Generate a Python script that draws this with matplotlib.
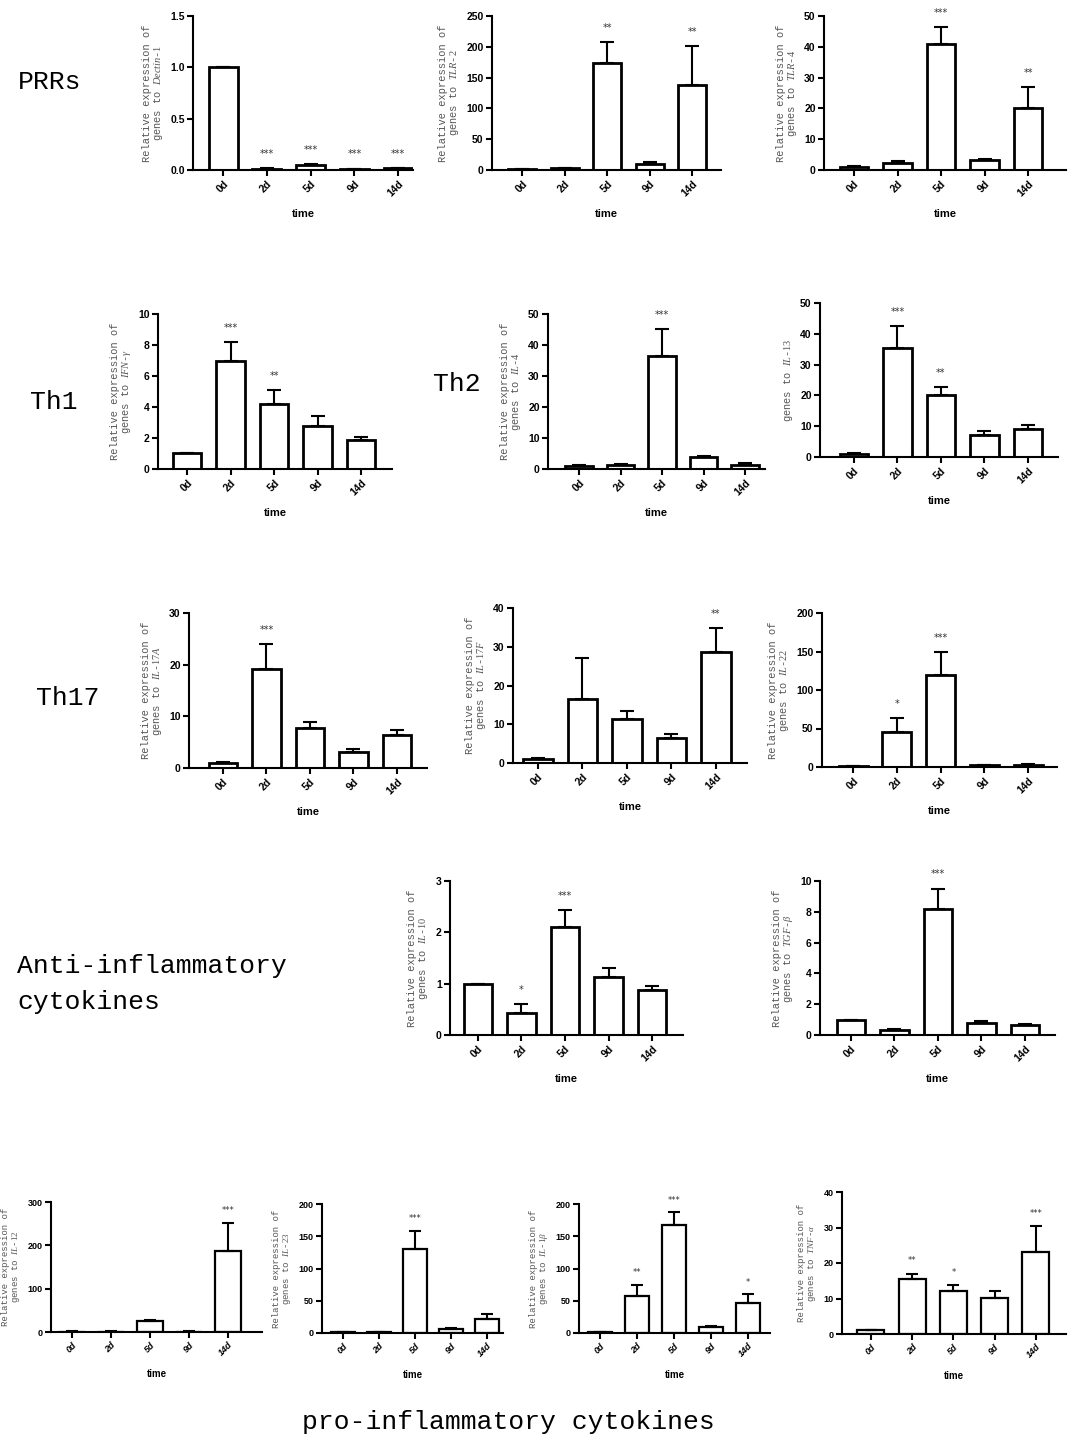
import numpy as np
import matplotlib
matplotlib.use("Agg")
import matplotlib.pyplot as plt

plt.rcParams['mathtext.fontset'] = 'custom'
plt.rcParams['mathtext.it'] = 'Liberation Serif:italic'
plt.rcParams['mathtext.rm'] = 'Liberation Serif'

W, H = 1069, 1441
days = ["0d", "2d", "5d", "9d", "14d"]

# values (mean, upper error, significance)
dectin1 = [1.0, 0.01, 0.05, 0.01, 0.015]
dectin1_err = [0, 0.005, 0.01, 0.003, 0.005]
dectin1_sig = ["", "***", "***", "***", "***"]

tlr2 = [1, 3, 174, 10, 138]
tlr2_err = [0.3, 1, 33, 3, 63]
tlr2_sig = ["", "", "**", "", "**"]

tlr4 = [1, 2.3, 41, 3.1, 20.2]
tlr4_err = [0.2, 0.6, 5.5, 0.5, 6.7]
tlr4_sig = ["", "", "***", "", "**"]

ifng = [1, 6.95, 4.2, 2.75, 1.85]
ifng_err = [0, 1.25, 0.9, 0.7, 0.2]
ifng_sig = ["", "***", "**", "", ""]

il4 = [1, 1.4, 36.5, 3.8, 1.3]
il4_err = [0.2, 0.3, 8.7, 0.5, 0.5]
il4_sig = ["", "", "***", "", ""]

il13 = [1, 35.5, 20, 7.2, 9.1]
il13_err = [0.2, 7, 2.7, 1.3, 1.2]
il13_sig = ["", "***", "**", "", ""]

il17a = [1, 19.2, 7.7, 3.1, 6.3]
il17a_err = [0.2, 4.8, 1.3, 0.5, 1.0]
il17a_sig = ["", "***", "", "", ""]

il17f = [1, 16.4, 11.3, 6.4, 28.6]
il17f_err = [0.2, 10.6, 2.2, 1.1, 6.2]
il17f_sig = ["", "", "", "", "**"]

il22 = [1, 46, 120, 2.5, 3]
il22_err = [0.3, 17, 29, 0.5, 0.5]
il22_sig = ["", "*", "***", "", ""]

il10 = [1.0, 0.43, 2.11, 1.13, 0.87]
il10_err = [0, 0.17, 0.32, 0.17, 0.08]
il10_sig = ["", "*", "***", "", ""]

tgfb = [1.0, 0.3, 8.2, 0.8, 0.62]
tgfb_err = [0, 0.08, 1.3, 0.12, 0.1]
tgfb_sig = ["", "", "***", "", ""]

il12 = [1, 1, 25, 1, 188]
il12_err = [0.2, 0.3, 3, 0.3, 63]
il12_sig = ["", "", "", "", "***"]

il23 = [1, 1, 131, 6, 22]
il23_err = [0.2, 0.3, 27, 2, 7]
il23_sig = ["", "", "***", "", ""]

il1b = [1, 57, 167, 9, 47]
il1b_err = [0.2, 18, 20, 1.5, 13]
il1b_sig = ["", "**", "***", "", "*"]

tnfa = [1, 15.5, 12, 10.2, 23]
tnfa_err = [0.2, 1.5, 1.7, 2, 7.3]
tnfa_sig = ["", "**", "*", "", "***"]

fig = plt.figure(figsize=(W / 100, H / 100), dpi=100)


def panel(box, xl, xr, vals, err, sig, ymax, ystep, gene, small=False,
          first_line=True, fmt="{:g}"):
    L, T, R, B = box
    ax = fig.add_axes([L / W, 1 - B / H, (R - L) / W, (B - T) / H])
    x = np.arange(len(days))
    ax.bar(x, vals, width=0.66, color="white", edgecolor="black",
           linewidth=2.0 if not small else 1.6, zorder=2)
    ax.errorbar(x, vals, yerr=[np.zeros(len(vals)), err], fmt="none",
                ecolor="black", elinewidth=1.5, capsize=5 if not small else 4,
                capthick=1.5, zorder=3)
    for xi, v, e, s in zip(x, vals, err, sig):
        if s:
            ax.text(xi, v + e + 0.06 * ymax, s, ha="center", va="bottom",
                    fontsize=7 if not small else 6, color="#333333")
    ax.set_xlim(xl, xr)
    ax.set_ylim(0, ymax)
    ticks = np.arange(0, ymax + ystep / 2, ystep)
    ax.set_yticks(ticks)
    tfs = 7.5 if not small else 6.5
    ax.set_yticklabels([fmt.format(t) for t in ticks], fontsize=tfs,
                       fontweight="bold", family="Liberation Sans")
    ax.set_xticks(x)
    ax.set_xticklabels(days, rotation=45, ha="right", rotation_mode="anchor",
                       fontsize=tfs, fontweight="bold", family="Liberation Sans",
                       style="italic" if small else "normal")
    for sp in ["top", "right"]:
        ax.spines[sp].set_visible(False)
    for sp in ["left", "bottom"]:
        ax.spines[sp].set_linewidth(1.5)
    ax.tick_params(direction="out", length=4, width=1.5, pad=2)
    ax.set_xlabel("time", fontsize=8 if not small else 7, fontweight="bold",
                  family="Liberation Sans", labelpad=8)
    label = "genes to " + gene
    if first_line:
        label = "Relative expression of\n" + label
    ax.set_ylabel(label, fontsize=7.5 if not small else 6.5, color="#555555",
                  family="Liberation Mono", linespacing=1.0, labelpad=4)
    return ax


# row 1: PRRs
panel((193, 16, 413, 170), -0.69, 4.34, dectin1, dectin1_err, dectin1_sig,
      1.5, 0.5, r"$\mathit{Dectin}$-$\mathit{1}$", fmt="{:.1f}")
panel((492, 16, 721, 170), -0.71, 4.68, tlr2, tlr2_err, tlr2_sig,
      250, 50, r"$\mathit{TLR}$-$\mathit{2}$")
panel((824, 16, 1066, 170), -0.69, 4.87, tlr4, tlr4_err, tlr4_sig,
      50, 10, r"$\mathit{TLR}$-$\mathit{4}$")

# row 2: Th1 / Th2
panel((158, 314, 392, 469), -0.67, 4.71, ifng, ifng_err, ifng_sig,
      10, 2, r"$\mathit{IFN}$-$\gamma$")
panel((548, 314, 765, 469), -0.75, 4.48, il4, il4_err, il4_sig,
      50, 10, r"$\mathit{IL}$-$\mathit{4}$")
panel((820, 303, 1058, 457), -0.78, 4.69, il13, il13_err, il13_sig,
      50, 10, r"$\mathit{IL}$-$\mathit{13}$", first_line=False)

# row 3: Th17
panel((189, 613, 427, 768), -0.78, 4.69, il17a, il17a_err, il17a_sig,
      30, 10, r"$\mathit{IL}$-$\mathit{17A}$")
panel((513, 608, 747, 763), -0.56, 4.70, il17f, il17f_err, il17f_sig,
      40, 10, r"$\mathit{IL}$-$\mathit{17F}$")
panel((822, 613, 1057, 767), -0.71, 4.66, il22, il22_err, il22_sig,
      200, 50, r"$\mathit{IL}$-$\mathit{22}$")

# row 4: anti-inflammatory
panel((450, 881, 683, 1035), -0.64, 4.71, il10, il10_err, il10_sig,
      3, 1, r"$\mathit{IL}$-$\mathit{10}$")
panel((820, 881, 1055, 1035), -0.71, 4.69, tgfb, tgfb_err, tgfb_sig,
      10, 2, r"$\mathit{TGF}$-$\beta$")

# row 5: pro-inflammatory
panel((51, 1202, 262, 1332), -0.54, 4.87, il12, il12_err, il12_sig,
      300, 100, r"$\mathit{IL}$-$\mathit{12}$", small=True)
panel((322, 1204, 503, 1333), -0.58, 4.44, il23, il23_err, il23_sig,
      200, 50, r"$\mathit{IL}$-$\mathit{23}$", small=True)
panel((579, 1204, 770, 1333), -0.57, 4.60, il1b, il1b_err, il1b_sig,
      200, 50, r"$\mathit{IL}$-$\mathit{1}\beta$", small=True)
panel((842, 1192, 1066, 1334), -0.70, 4.73, tnfa, tnfa_err, tnfa_sig,
      40, 10, r"$\mathit{TNF}$-$\alpha$", small=True)

# group labels
def group(x, y, s):
    fig.text(x / W, 1 - y / H, s, fontsize=19, family="Liberation Mono",
             va="center", ha="left", linespacing=1.6)

group(18, 82, "PRRs")
group(30, 402, "Th1")
group(433, 384, "Th2")
group(36, 698, "Th17")
group(17, 984, "Anti-inflammatory\ncytokines")
fig.text(508 / W, 1 - 1422 / H, "pro-inflammatory cytokines", fontsize=19,
         family="Liberation Mono", va="center", ha="center")

fig.savefig("out.png", dpi=100, facecolor="white")
